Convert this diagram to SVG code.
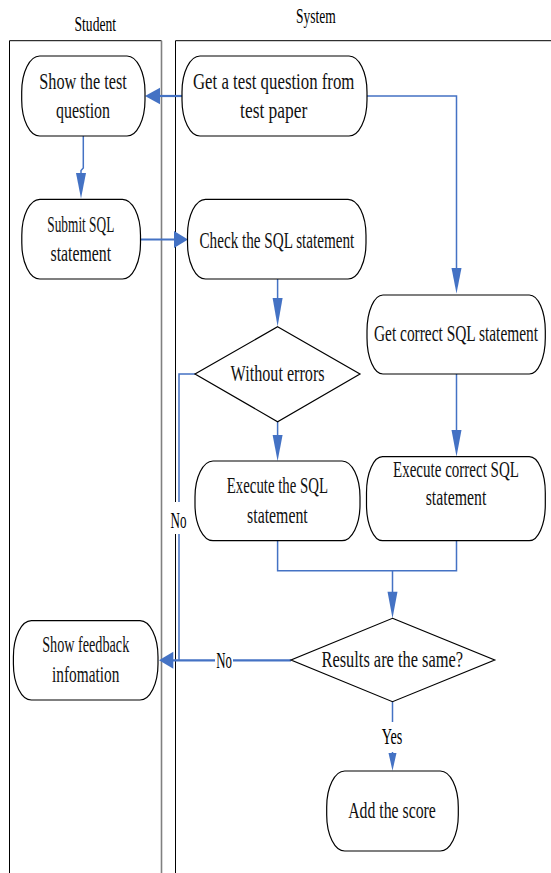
<svg xmlns="http://www.w3.org/2000/svg" width="551" height="873" viewBox="0 0 551 873">
<style>
.lane{fill:none;stroke:#000;stroke-width:1}
.lane2{fill:none;stroke:#808080;stroke-width:1.6}
.node{fill:#fff;stroke:#000;stroke-width:1.2}
.t{font-family:"Liberation Serif","DejaVu Serif",serif;font-size:24px;fill:#111;text-anchor:middle}
.title{font-family:"Liberation Serif","DejaVu Serif",serif;font-size:21px;fill:#000;text-anchor:middle}
.lbl{font-family:"Liberation Serif","DejaVu Serif",serif;font-size:24px;fill:#000;text-anchor:middle}
.c{fill:none;stroke:#4472C4;stroke-width:1.5}
.c2{fill:none;stroke:#4472C4;stroke-width:2.2}
.ah{fill:#4472C4;stroke:none}
.bg{fill:#fff;stroke:none}
</style>
<rect width="551" height="873" fill="#fff"/>
<g id="lanes">
<path class="lane" d="M9.5,873 V40.7 H161.5"/>
<path class="lane2" d="M161.5,40.7 V873"/>
<path class="lane" d="M175.5,873 V40.7 H551"/>
<text class="title" x="95.3" y="30.7" textLength="41.5" lengthAdjust="spacingAndGlyphs">Student</text>
<text class="title" x="315.8" y="22.7" font-size="20" textLength="39.7" lengthAdjust="spacingAndGlyphs">System</text>
</g>
<g id="connectors">
<path class="c2" d="M182,96 H159"/>
<polygon class="ah" points="145,96 160,87.7 160,104.3"/>
<path class="c" d="M367,96 H456.5 V270"/>
<polygon class="ah" points="456.5,293.5 451.5,268 461.5,268"/>
<path class="c" d="M83.3,136 V168 L81,170.5 V175"/>
<polygon class="ah" points="81,198.5 76,173 86,173"/>
<path class="c2" d="M140.5,239.5 H175"/>
<polygon class="ah" points="188,239.5 174,231 174,248"/>
<path class="c" d="M277.6,279 V300"/>
<polygon class="ah" points="277.6,326.5 272.6,298 282.6,298"/>
<path class="c" d="M277.6,421.7 V437"/>
<polygon class="ah" points="277.6,461 272.6,435 282.6,435"/>
<path class="c" d="M195,374 H179 V660"/>
<path class="c" d="M456.5,374 V432"/>
<polygon class="ah" points="456.5,456.7 451.5,430 461.5,430"/>
<path class="c" d="M277.6,540.7 V570.7 H456.5 V540.7 M392.5,570.7 V594"/>
<polygon class="ah" points="392.5,618.3 387.5,591.7 397.5,591.7"/>
<path class="c2" d="M291,660.3 H172"/>
<polygon class="ah" points="159,660.3 173.3,651.8 173.3,668.8"/>
<path class="c" d="M392.5,701.7 V755"/>
<polygon class="ah" points="392.5,770.7 388.5,753 396.5,753"/>
<rect class="bg" x="168" y="502" width="21" height="32"/>
<text class="lbl" x="178.5" y="528.3" textLength="16" lengthAdjust="spacingAndGlyphs">No</text>
<rect class="bg" x="215" y="648" width="18" height="22"/>
<text class="lbl" x="224" y="667.7" textLength="15.7" lengthAdjust="spacingAndGlyphs">No</text>
<rect class="bg" x="380" y="722" width="25" height="30"/>
<text class="lbl" x="392" y="744.3" textLength="20.7" lengthAdjust="spacingAndGlyphs">Yes</text>
</g>
<g id="n1">
<rect class="node" x="21.7" y="56" width="123.3" height="80" rx="18" ry="36"/>
<text class="t" x="83" y="89" textLength="87.5" lengthAdjust="spacingAndGlyphs">Show the test</text>
<text class="t" x="83" y="118.3" textLength="54" lengthAdjust="spacingAndGlyphs">question</text>
</g>
<g id="n2">
<rect class="node" x="182" y="56" width="185" height="80" rx="18" ry="36"/>
<text class="t" x="273.7" y="89" textLength="161.5" lengthAdjust="spacingAndGlyphs">Get a test question from</text>
<text class="t" x="273.7" y="118" textLength="67.3" lengthAdjust="spacingAndGlyphs">test paper</text>
</g>
<g id="n3">
<rect class="node" x="21.8" y="199.3" width="118.7" height="79.7" rx="18" ry="36"/>
<text class="t" x="80.8" y="231.7" textLength="67" lengthAdjust="spacingAndGlyphs">Submit SQL</text>
<text class="t" x="80.8" y="261" textLength="60.6" lengthAdjust="spacingAndGlyphs">statement</text>
</g>
<g id="n4">
<rect class="node" x="187.5" y="199.3" width="178.5" height="79.7" rx="18" ry="36"/>
<text class="t" x="276.9" y="247.5" textLength="154.8" lengthAdjust="spacingAndGlyphs">Check the SQL statement</text>
</g>
<g id="d1">
<polygon class="node" points="277.6,326.7 360,374 277.6,421.7 195,374"/>
<text class="t" x="277.6" y="381" textLength="94" lengthAdjust="spacingAndGlyphs">Without errors</text>
</g>
<g id="n5">
<rect class="node" x="367" y="295" width="178.3" height="79" rx="16" ry="36"/>
<text class="t" x="456" y="340.7" textLength="164" lengthAdjust="spacingAndGlyphs">Get correct SQL statement</text>
</g>
<g id="n6">
<rect class="node" x="195" y="461" width="165" height="79.7" rx="18" ry="36"/>
<text class="t" x="277.4" y="492.7" textLength="101.2" lengthAdjust="spacingAndGlyphs">Execute the SQL</text>
<text class="t" x="277.4" y="522.7" textLength="60.6" lengthAdjust="spacingAndGlyphs">statement</text>
</g>
<g id="n7">
<rect class="node" x="366.5" y="456.7" width="178.8" height="84" rx="16" ry="36"/>
<text class="t" x="456" y="477" textLength="126" lengthAdjust="spacingAndGlyphs">Execute correct SQL</text>
<text class="t" x="456" y="505" textLength="60.6" lengthAdjust="spacingAndGlyphs">statement</text>
</g>
<g id="d2">
<polygon class="node" points="392.5,618.3 494.7,660 392.5,701.7 291,660"/>
<text class="t" x="392.3" y="667" textLength="141.6" lengthAdjust="spacingAndGlyphs">Results are the same?</text>
</g>
<g id="n8">
<rect class="node" x="326.7" y="771" width="131.6" height="80" rx="18" ry="36"/>
<text class="t" x="392" y="818.3" textLength="87.7" lengthAdjust="spacingAndGlyphs">Add the score</text>
</g>
<g id="n9">
<rect class="node" x="13.4" y="620.7" width="144.6" height="79.3" rx="18" ry="36"/>
<text class="t" x="85.7" y="651.7" textLength="87.1" lengthAdjust="spacingAndGlyphs">Show feedback</text>
<text class="t" x="85.7" y="681.7" textLength="67.3" lengthAdjust="spacingAndGlyphs">infomation</text>
</g>
</svg>
